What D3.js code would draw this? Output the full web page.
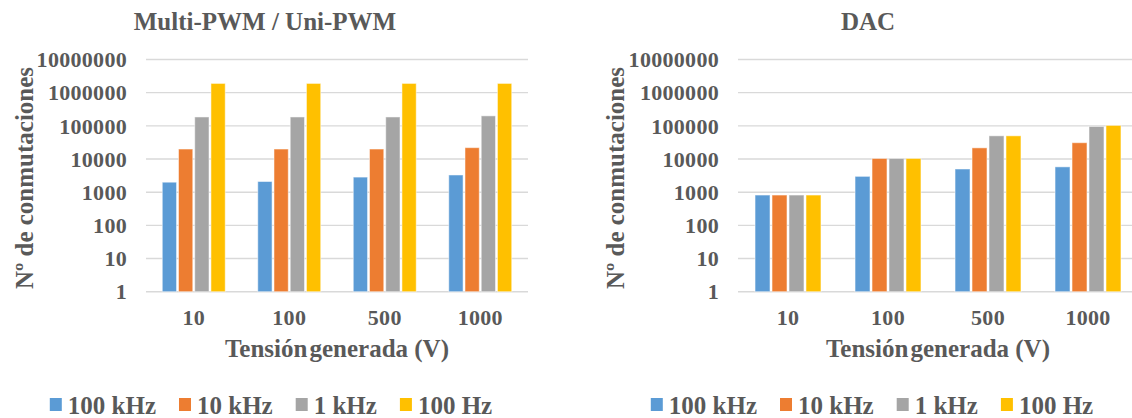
<!DOCTYPE html>
<html>
<head>
<meta charset="utf-8">
<script src="https://cdn.jsdelivr.net/npm/d3@7"></script>
<style>
  body { margin: 0; background: #fff; }
  svg text { font-family: "Liberation Serif", "Times New Roman", serif; font-weight: bold; fill: #595959; }
</style>
</head>
<body>
<svg id="chart" width="1132" height="418"></svg>
<script>
// values (log scale, so approximate)
var categories = ["10", "100", "500", "1000"];
var seriesNames = ["100 kHz", "10 kHz", "1 kHz", "100 Hz"];
var colors = ["#5B9BD5", "#ED7D31", "#A5A5A5", "#FFC000"];
var yTicks = [1, 10, 100, 1000, 10000, 100000, 1000000, 10000000];

var pwm100k = [2000, 2100, 2850, 3300];
var pwm10k  = [20000, 20000, 20000, 22000];
var pwm1k   = [185000, 185000, 185000, 200000];
var pwm100  = [1900000, 1900000, 1900000, 1900000];

var dac100k = [820, 3000, 5000, 5800];
var dac10k  = [820, 10400, 21700, 31000];
var dac1k   = [820, 10400, 50000, 96000];
var dac100  = [820, 10400, 50000, 103000];

var svg = d3.select("#chart");

function drawPanel(p) {
  var g = svg.append("g");
  var series = p.series;

  var x0 = d3.scaleBand().domain(categories).range([p.left, p.right]).paddingInner(0.3).paddingOuter(0.15);
  var x1 = d3.scaleBand().domain(d3.range(series.length)).range([0, x0.bandwidth()]).padding(0.12);
  var y = d3.scaleLog().domain([1, 10000000]).range([p.bottom, p.top]);

  // gridlines
  g.selectAll(".grid").data(yTicks).enter().append("line")
    .attr("x1", p.left).attr("x2", p.right)
    .attr("y1", function(d){ return y(d); })
    .attr("y2", function(d){ return y(d); })
    .attr("stroke", "#d9d9d9")
    .attr("stroke-width", 1.4);

  // tick labels
  g.selectAll(".ytick").data(yTicks).enter().append("text")
    .attr("x", p.left - 19)
    .attr("y", function(d){ return y(d); })
    .attr("dy", "0.35em")
    .attr("text-anchor", "end")
    .style("font-size", "22px")
    .style("letter-spacing", "0.3px")
    .text(function(d){ return d; });

  categories.forEach(function(c, ci) {
    g.selectAll(".bar" + ci).data(series).enter().append("rect")
      .attr("x", function(s, si){ return x0(c) + x1(si); })
      .attr("y", function(s){ return y(s[ci]); })
      .attr("width", x1.bandwidth())
      .attr("height", function(s){ return p.bottom - y(s[ci]); })
      .attr("fill", function(s, si){ return colors[si]; })
      .attr("stroke", "#fff")
      .attr("stroke-opacity", 0.5)
      .attr("stroke-width", 1);
  });

  g.selectAll(".xtick").data(categories).enter().append("text")
    .attr("x", function(d){ return x0(d) + x0.bandwidth() / 2; })
    .attr("y", 325)
    .attr("text-anchor", "middle")
    .style("font-size", "22px")
    .style("letter-spacing", "0.3px")
    .text(function(d){ return d; });

  // "Tensión" and "generada" sit tight together in the original
  var xt = g.append("text")
    .attr("x", (p.left + p.right) / 2)
    .attr("y", 357)
    .attr("text-anchor", "middle")
    .style("font-size", "25px");
  xt.append("tspan").text("Tensión");
  xt.append("tspan").attr("dx", 2).text("generada (V)");

  g.append("text")
    .attr("transform", "translate(" + p.yTitleX + "," + 178 + ") rotate(-90)")
    .attr("text-anchor", "middle")
    .style("font-size", "25px")
    .text("Nº de conmutaciones");

  g.append("text")
    .attr("x", p.titleX)
    .attr("y", 30)
    .attr("text-anchor", "middle")
    .style("font-size", "25px")
    .text(p.title);

  // legend, laid out from text widths then centred
  var leg = g.append("g");
  var xpos = 0;
  seriesNames.forEach(function(name, i) {
    var item = leg.append("g").attr("transform", "translate(" + xpos + ",0)");
    item.append("rect").attr("x", 0).attr("y", 398).attr("width", 12).attr("height", 13).attr("fill", colors[i]);
    var t = item.append("text").attr("x", 18).attr("y", 414).style("font-size", "25px").text(name);
    xpos += 18 + t.node().getComputedTextLength() + 23;
  });
  var legW = xpos - 23;
  leg.attr("transform", "translate(" + (p.legendX - legW / 2) + ",0)");
}

drawPanel({
  title: "Multi-PWM / Uni-PWM",
  series: [pwm100k, pwm10k, pwm1k, pwm100],
  left: 146, right: 528, top: 59.5, bottom: 291.7,
  titleX: 265, yTitleX: 33, legendX: 271
});

drawPanel({
  title: "DAC",
  series: [dac100k, dac10k, dac1k, dac100],
  left: 738, right: 1138, top: 59.5, bottom: 291.7,
  titleX: 868, yTitleX: 624, legendX: 872
});
</script>
</body>
</html>
